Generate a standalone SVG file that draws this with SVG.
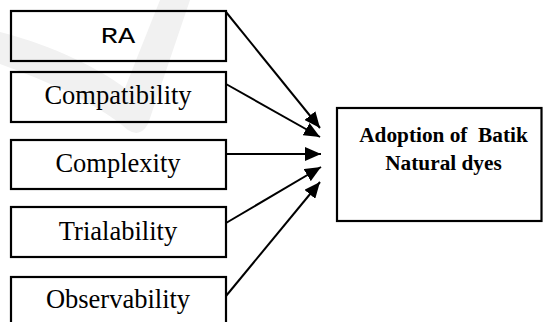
<svg xmlns="http://www.w3.org/2000/svg" width="543" height="322" viewBox="0 0 543 322">
  <style>
    .box { fill: none; stroke: #000; stroke-width: 2.2; }
    .lbl { font-family: "Liberation Serif", "Times New Roman", serif; font-size: 26.5px; fill: #000; text-anchor: middle; }
    .mono { font-family: "Liberation Mono", "Courier New", monospace; font-size: 22px; fill: #000; text-anchor: middle; }
    .bold { font-family: "Liberation Serif", "Times New Roman", serif; font-size: 21.3px; font-weight: bold; fill: #000; text-anchor: middle; }
    .conn { stroke: #000; stroke-width: 2; fill: none; marker-end: url(#arrow); }
  </style>
  <defs>
    <marker id="arrow" viewBox="0 0 16 14" refX="16" refY="7" markerWidth="16" markerHeight="14" markerUnits="userSpaceOnUse" orient="auto">
      <path d="M0,0 L16,7 L0,14 Z" fill="#000"/>
    </marker>
  </defs>
  <rect width="543" height="322" fill="#fff"/>
  <path d="M0,32 C40,42 90,62 125,88 L160,0 L190,0 L148,124 Q140,138 128,130 C95,102 50,82 0,64 Z" fill="#f1f1f1"/>

  <g id="ra">
    <rect class="box" x="11" y="11" width="215" height="50"/>
    <text class="mono" transform="translate(118,43) scale(1.3,1)" x="0" y="0">RA</text>
  </g>
  <g id="compatibility">
    <rect class="box" x="11" y="72" width="215" height="50"/>
    <text class="lbl" x="118" y="104">Compatibility</text>
  </g>
  <g id="complexity">
    <rect class="box" x="11" y="140" width="215" height="49"/>
    <text class="lbl" x="118" y="172">Complexity</text>
  </g>
  <g id="trialability">
    <rect class="box" x="11" y="207" width="215" height="50"/>
    <text class="lbl" x="118" y="239.5">Trialability</text>
  </g>
  <g id="observability">
    <rect class="box" x="11" y="277" width="215" height="60"/>
    <text class="lbl" x="118" y="308">Observability</text>
  </g>
  <g id="adoption">
    <rect class="box" x="337" y="108" width="204.5" height="113"/>
    <text class="bold" x="443.5" y="141.7" xml:space="preserve">Adoption of  Batik</text>
    <text class="bold" x="443.5" y="170">Natural dyes</text>
  </g>

  <g id="connectors">
    <line class="conn" x1="226" y1="12" x2="320" y2="128"/>
    <line class="conn" x1="226" y1="84" x2="320" y2="137"/>
    <line class="conn" x1="226" y1="154" x2="321" y2="154"/>
    <line class="conn" x1="226" y1="223" x2="321" y2="167"/>
    <line class="conn" x1="226" y1="296" x2="320" y2="182"/>
  </g>
</svg>
